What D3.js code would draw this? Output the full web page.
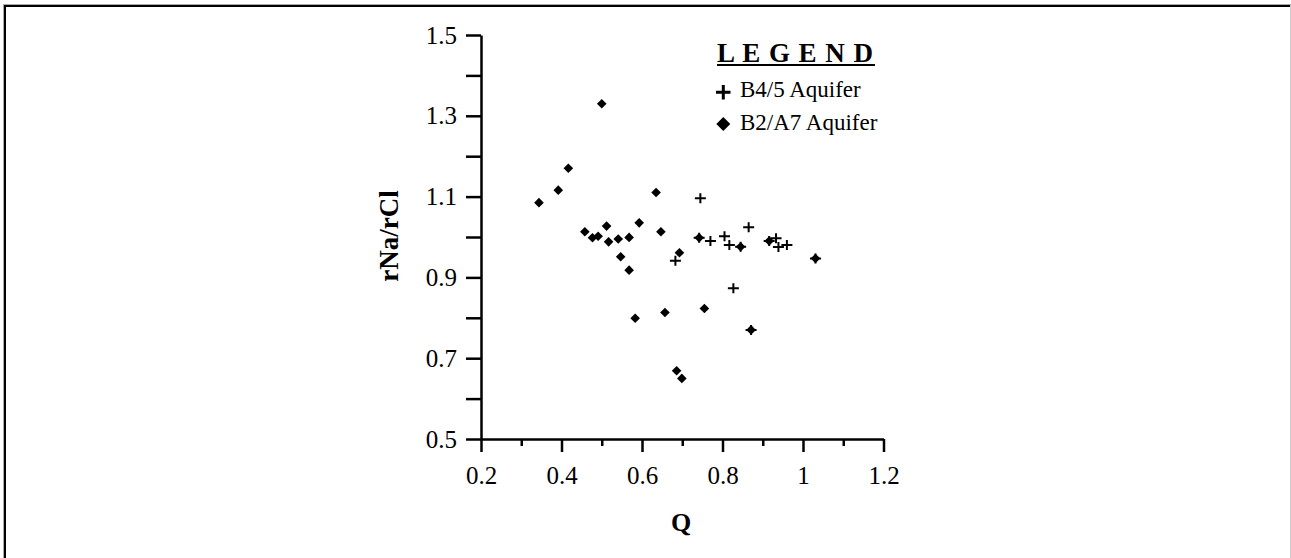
<!DOCTYPE html>
<html>
<head>
<meta charset="utf-8">
<script src="https://cdn.jsdelivr.net/npm/d3@7"></script>
<style>
  html, body { margin: 0; padding: 0; background: #fff; }
  svg { display: block; }
  text { font-family: "Liberation Serif", "Times New Roman", serif; fill: #000; }
</style>
</head>
<body>
<svg id="chart" width="1291" height="558"></svg>
<script>
// ---- data ----
const seriesNames = ["B4/5 Aquifer", "B2/A7 Aquifer"];
const b45Q = [0.745, 0.742, 0.770, 0.805, 0.817, 0.845, 0.865, 0.683, 0.827, 0.871, 0.916, 0.933, 0.939, 0.960, 1.031];
const b45R = [1.096, 0.998, 0.990, 1.002, 0.980, 0.976, 1.024, 0.941, 0.873, 0.770, 0.990, 0.997, 0.975, 0.980, 0.947];
const b27Q = [0.344, 0.392, 0.417, 0.500, 0.635, 0.458, 0.477, 0.491, 0.512, 0.517, 0.541, 0.568, 0.547, 0.568, 0.593, 0.647, 0.693, 0.583, 0.657, 0.755, 0.686, 0.699, 0.742, 0.845, 0.871, 0.916, 1.031];
const b27R = [1.085, 1.116, 1.170, 1.330, 1.110, 1.013, 0.998, 1.002, 1.027, 0.988, 0.995, 0.999, 0.951, 0.918, 1.035, 1.013, 0.961, 0.799, 0.813, 0.823, 0.669, 0.650, 0.998, 0.976, 0.770, 0.990, 0.947];
const xMajorTicks = [0.2, 0.4, 0.6, 0.8, 1.0, 1.2];
const xMinorTicks = [0.3, 0.5, 0.7, 0.9, 1.1];
const xTickLabels = ["0.2", "0.4", "0.6", "0.8", "1", "1.2"];
const yTicks = [0.5, 0.6, 0.7, 0.8, 0.9, 1.0, 1.1, 1.2, 1.3, 1.4, 1.5];
const yTickLabels = ["0.5", "", "0.7", "", "0.9", "", "1.1", "", "1.3", "", "1.5"];
const xTitle = "Q";
const yTitle = "rNa/rCl";
const legendTitle = "L E G E N D";

// ---- layout ----
const svg = d3.select("#chart");
const x = d3.scaleLinear().domain([0.2, 1.2]).range([481, 883.5]);
const y = d3.scaleLinear().domain([0.5, 1.5]).range([439, 35]);

// outer frame
svg.append("line").attr("x1", 3.5).attr("y1", 4).attr("x2", 3.5).attr("y2", 558).attr("stroke", "#aaa").attr("stroke-width", 1);
svg.append("line").attr("x1", 3).attr("y1", 4.5).attr("x2", 1291).attr("y2", 4.5).attr("stroke", "#aaa").attr("stroke-width", 1);
svg.append("line").attr("x1", 5).attr("y1", 5).attr("x2", 5).attr("y2", 558).attr("stroke", "#000").attr("stroke-width", 2);
svg.append("line").attr("x1", 4).attr("y1", 6).attr("x2", 1291).attr("y2", 6).attr("stroke", "#000").attr("stroke-width", 2);
svg.append("line").attr("x1", 1290.5).attr("y1", 5).attr("x2", 1290.5).attr("y2", 558).attr("stroke", "#ccc").attr("stroke-width", 1);

// y axis
const yAxis = d3.axisLeft(y).tickValues(yTicks).tickSize(15).tickSizeOuter(0).tickPadding(9)
  .tickFormat((d, i) => yTickLabels[i]);
const gy = svg.append("g").attr("transform", `translate(${x(0.2)},0)`).call(yAxis);
gy.select(".domain").attr("stroke-width", 2.5);
gy.selectAll(".tick line").attr("stroke-width", 2.5);
gy.selectAll(".tick text").attr("font-size", 25).attr("font-family", "Liberation Serif, Times New Roman, serif");

// x axis (major + minor)
const xAxis = d3.axisBottom(x).tickValues(xMajorTicks).tickSize(13).tickSizeOuter(0).tickPadding(14)
  .tickFormat((d, i) => xTickLabels[i]);
const gx = svg.append("g").attr("transform", `translate(0,${y(0.5)})`).call(xAxis);
gx.select(".domain").attr("stroke-width", 2.5);
gx.selectAll(".tick line").attr("stroke-width", 2.5);
gx.selectAll(".tick text").attr("font-size", 25).attr("font-family", "Liberation Serif, Times New Roman, serif");

const xAxisMinor = d3.axisBottom(x).tickValues(xMinorTicks).tickSize(7).tickSizeOuter(0).tickFormat("");
const gxm = svg.append("g").attr("transform", `translate(0,${y(0.5)})`).call(xAxisMinor);
gxm.select(".domain").remove();
gxm.selectAll(".tick line").attr("stroke-width", 2.5);

// axis titles
svg.append("text").attr("x", 681).attr("y", 531).attr("text-anchor", "middle")
  .attr("font-size", 26).attr("font-weight", "bold").text(xTitle);
svg.append("text").attr("transform", "translate(398,236) rotate(-90)").attr("text-anchor", "middle")
  .attr("font-size", 27).attr("font-weight", "bold").text(yTitle);

// markers
const diamond = (cx, cy, r) => `M${cx},${cy - r}L${cx + r},${cy}L${cx},${cy + r}L${cx - r},${cy}Z`;
const b27 = b27Q.map((q, i) => ({ q, r: b27R[i] }));
const b45 = b45Q.map((q, i) => ({ q, r: b45R[i] }));

svg.append("g").selectAll("path").data(b27).join("path")
  .attr("d", d => diamond(x(d.q), y(d.r), 4.8))
  .attr("fill", "#000");

svg.append("g").selectAll("path").data(b45).join("path")
  .attr("d", d => `M${x(d.q) - 5.5},${y(d.r)}H${x(d.q) + 5.5}M${x(d.q)},${y(d.r) - 5}V${y(d.r) + 5}`)
  .attr("stroke", "#000").attr("stroke-width", 2).attr("fill", "none");

// legend
const lg = svg.append("g");
lg.append("text").attr("x", 717).attr("y", 62).attr("font-size", 27).attr("font-weight", "bold")
  .attr("textLength", 156).attr("lengthAdjust", "spacing").text(legendTitle);
lg.append("line").attr("x1", 717).attr("x2", 875).attr("y1", 65).attr("y2", 65).attr("stroke", "#000").attr("stroke-width", 2);
lg.append("path").attr("d", "M716,92.3H730.5M723.3,85V99.5").attr("stroke", "#000").attr("stroke-width", 3);
lg.append("path").attr("d", diamond(723.3, 124, 7)).attr("fill", "#000");
lg.append("text").attr("x", 740).attr("y", 97).attr("font-size", 23).text(seriesNames[0]);
lg.append("text").attr("x", 740).attr("y", 130).attr("font-size", 23).text(seriesNames[1]);
</script>
</body>
</html>
